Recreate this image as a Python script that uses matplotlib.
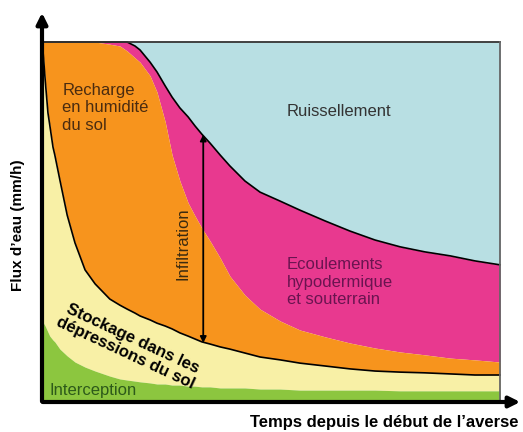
import numpy as np
import matplotlib
matplotlib.use('Agg')
from matplotlib import pyplot as plt

plt.rcParams['font.family'] = ['Liberation Sans', 'DejaVu Sans']

# temps (unites arbitraires, 0 = debut de l'averse)
temps = [0, 0.02, 0.07, 0.13, 0.17, 0.24, 0.28, 0.39, 0.55, 0.72,
         0.94, 1.16, 1.48, 1.70, 1.86, 2.03, 2.14, 2.36, 2.51, 2.69,
         2.84, 3.01, 3.19, 3.34, 3.49, 3.67, 3.89, 4.10, 4.43, 4.76,
         5.20, 5.63, 6.18, 6.72, 7.27, 7.82, 8.36, 8.91, 9.45, 10]
# limites superieures cumulees de chaque couche (mm/h, echelle 0-10)
haut_interception = [2.28, 2.22, 2.11, 1.94, 1.83, 1.72, 1.67, 1.47, 1.28, 1.11,
                     0.97, 0.86, 0.72, 0.64, 0.61, 0.58, 0.56, 0.53, 0.50, 0.50,
                     0.47, 0.47, 0.44, 0.44, 0.42, 0.42, 0.39, 0.39, 0.39, 0.36,
                     0.36, 0.33, 0.33, 0.33, 0.33, 0.31, 0.31, 0.31, 0.31, 0.31]
haut_stockage = [10, 9.78, 8.94, 8.03, 7.69, 7.08, 6.86, 6.17, 5.19, 4.42,
                 3.67, 3.28, 2.86, 2.69, 2.58, 2.47, 2.39, 2.28, 2.19, 2.11,
                 2.03, 1.92, 1.83, 1.75, 1.67, 1.61, 1.53, 1.47, 1.36, 1.25,
                 1.17, 1.08, 1.00, 0.92, 0.86, 0.83, 0.81, 0.78, 0.75, 0.75]
haut_recharge = [10, 10, 10, 10, 10, 10, 10, 10, 10, 10,
                 10, 10, 9.94, 9.89, 9.75, 9.56, 9.44, 9.06, 8.61, 7.78,
                 6.86, 6.14, 5.53, 5.17, 4.83, 4.47, 4.00, 3.50, 2.97, 2.58,
                 2.25, 2.00, 1.81, 1.64, 1.50, 1.39, 1.31, 1.22, 1.17, 1.11]
haut_ecoulement = [10, 10, 10, 10, 10, 10, 10, 10, 10, 10,
                   10, 10, 10, 10, 10, 9.89, 9.78, 9.44, 9.17, 8.78,
                   8.47, 8.17, 7.92, 7.67, 7.44, 7.19, 6.86, 6.56, 6.14, 5.83,
                   5.58, 5.33, 5.03, 4.75, 4.50, 4.31, 4.17, 4.06, 3.92, 3.81]
pluie = 10

# couleurs
c_ruis = '#b8dfe3'
c_ecoul = '#e8398f'
c_rech = '#f7941d'
c_stock = '#f8f0a6'
c_inter = '#8cc63f'

fig = plt.figure(figsize=(5.23, 4.32), dpi=100)
ax = fig.add_axes([42 / 523, 30 / 432, 481 / 523, 392 / 432])
ax.set_xlim(0, 10.5)
ax.set_ylim(0, 10.89)
ax.axis('off')

t = np.array(temps)
ax.fill_between(t, haut_ecoulement, pluie, color=c_ruis, lw=0)
ax.fill_between(t, haut_recharge, haut_ecoulement, color=c_ecoul, lw=0)
ax.fill_between(t, haut_stockage, haut_recharge, color=c_rech, lw=0)
ax.fill_between(t, haut_interception, haut_stockage, color=c_stock, lw=0)
ax.fill_between(t, 0, haut_interception, color=c_inter, lw=0)

# limites noires
ax.plot(t, haut_ecoulement, color='black', lw=1.2)
ax.plot(t, haut_stockage, color='black', lw=1.2)
# cadre haut et droit
ax.plot([0, 10], [pluie, pluie], color='#333333', lw=1.3)
ax.plot([10, 10], [0, pluie], color='#666666', lw=1.3)

# axes fleches
ax.annotate('', xy=(0, 10.89), xytext=(0, -0.06),
            arrowprops=dict(arrowstyle='-|>', lw=3, color='black', mutation_scale=16))
ax.annotate('', xy=(10.5, 0), xytext=(-0.045, 0),
            arrowprops=dict(arrowstyle='-|>', lw=3, color='black', mutation_scale=16))

# fleche infiltration
ax.annotate('', xy=(3.52, 7.43), xytext=(3.52, 1.64),
            arrowprops=dict(arrowstyle='<|-|>', lw=1.3, color='black', mutation_scale=9,
                            shrinkA=0, shrinkB=0))

# textes
ax.text(0.44, 8.17, 'Recharge\nen humidité\ndu sol', fontsize=12, color='#4a2c10',
        ha='left', va='center', linespacing=1.2)
ax.text(5.35, 8.06, 'Ruissellement', fontsize=12, color='#333333', ha='left', va='center')
ax.text(5.35, 3.33, 'Ecoulements\nhypodermique\net souterrain', fontsize=12, color='#6a1450',
        ha='left', va='center', linespacing=1.2)
ax.text(3.08, 4.39, 'Infiltration', fontsize=12, color='#3a2a10', rotation=90,
        ha='center', va='center')
ax.text(1.9, 1.56, 'Stockage dans les\ndépressions du sol', fontsize=12, fontweight='bold',
        color='black', rotation=-25, rotation_mode='anchor', ha='center', va='center',
        linespacing=1.1)
ax.text(0.17, 0.33, 'Interception', fontsize=12, color='#2d5a1a', ha='left', va='center')

fig.text(18 / 523, 1 - 225 / 432, 'Flux d’eau (mm/h)', fontsize=11, fontweight='bold',
         rotation=90, ha='center', va='center')
fig.text(518 / 523, 1 - 423 / 432, 'Temps depuis le début de l’averse', fontsize=12,
         fontweight='bold', ha='right', va='center')

fig.savefig('out.png', dpi=100)
